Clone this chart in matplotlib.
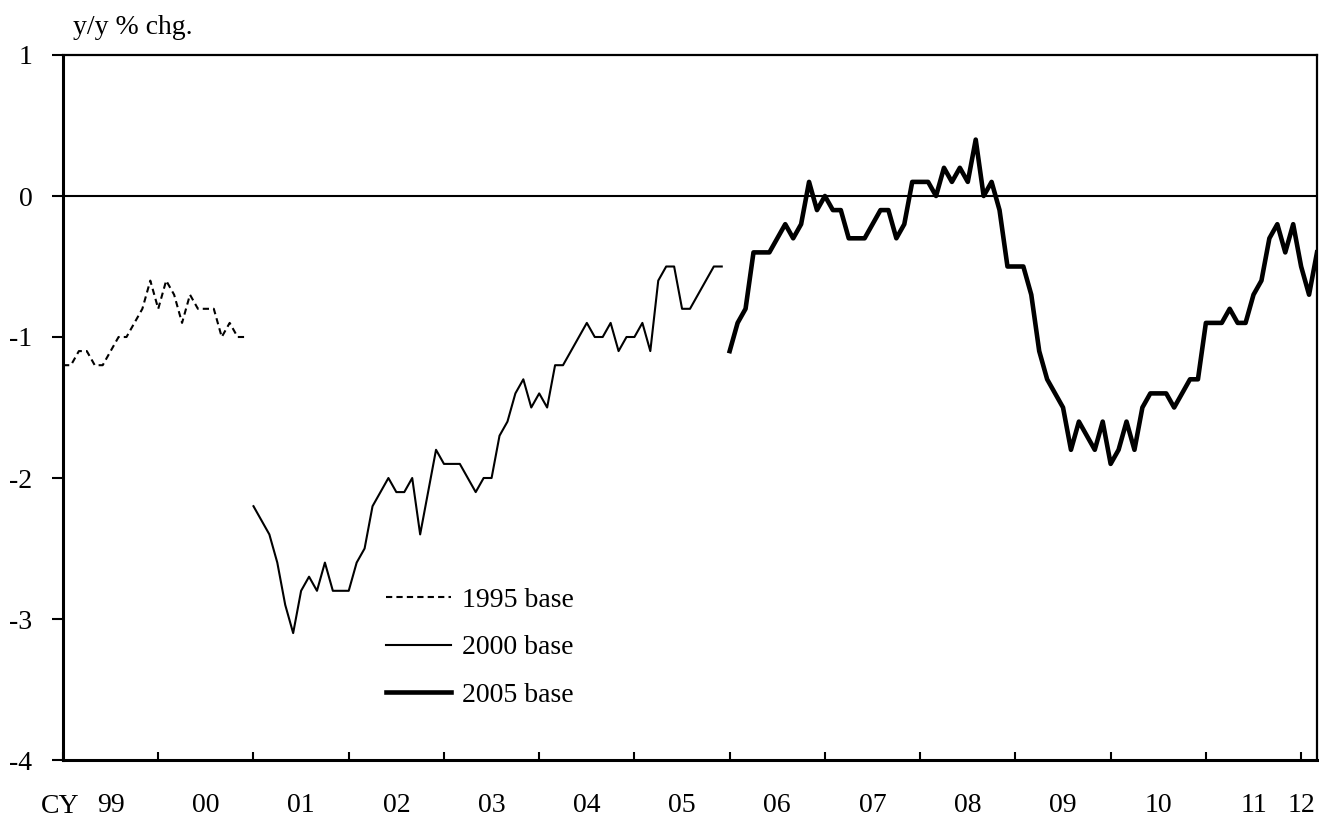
import matplotlib
matplotlib.use('Agg')
import matplotlib.pyplot as plt
import numpy as np

plt.rcParams['font.family'] = ['Liberation Serif', 'DejaVu Serif']
plt.rcParams['axes.unicode_minus'] = False

# monthly y/y % change, x counted in months from Jan 1999
base1995 = [-1.2, -1.2, -1.1, -1.1, -1.2, -1.2, -1.1, -1.0, -1.0, -0.9, -0.8, -0.6,
            -0.8, -0.6, -0.7, -0.9, -0.7, -0.8, -0.8, -0.8, -1.0, -0.9, -1.0, -1.0]  # 1999-2000
base2000 = [-2.2, -2.3, -2.4, -2.6, -2.9, -3.1, -2.8, -2.7, -2.8, -2.6, -2.8, -2.8,
            -2.8, -2.6, -2.5, -2.2, -2.1, -2.0, -2.1, -2.1, -2.0, -2.4, -2.1, -1.8,
            -1.9, -1.9, -1.9, -2.0, -2.1, -2.0, -2.0, -1.7, -1.6, -1.4, -1.3, -1.5,
            -1.4, -1.5, -1.2, -1.2, -1.1, -1.0, -0.9, -1.0, -1.0, -0.9, -1.1, -1.0,
            -1.0, -0.9, -1.1, -0.6, -0.5, -0.5, -0.8, -0.8, -0.7, -0.6, -0.5, -0.5]  # 2001-2005
base2005 = [-1.1, -0.9, -0.8, -0.4, -0.4, -0.4, -0.3, -0.2, -0.3, -0.2, 0.1, -0.1,
            0.0, -0.1, -0.1, -0.3, -0.3, -0.3, -0.2, -0.1, -0.1, -0.3, -0.2, 0.1,
            0.1, 0.1, 0.0, 0.2, 0.1, 0.2, 0.1, 0.4, 0.0, 0.1, -0.1, -0.5,
            -0.5, -0.5, -0.7, -1.1, -1.3, -1.4, -1.5, -1.8, -1.6, -1.7, -1.8, -1.6,
            -1.9, -1.8, -1.6, -1.8, -1.5, -1.4, -1.4, -1.4, -1.5, -1.4, -1.3, -1.3,
            -0.9, -0.9, -0.9, -0.8, -0.9, -0.9, -0.7, -0.6, -0.3, -0.2, -0.4, -0.2,
            -0.5, -0.7, -0.4]  # 2006 - Mar 2012
start_1995, start_2000, start_2005 = 0, 24, 84
year_labels = ['99', '00', '01', '02', '03', '04', '05', '06', '07', '08', '09', '10', '11', '12']
n_months = 158

fig = plt.figure(figsize=(13.19, 8.21), dpi=100)
ax = fig.add_axes([63 / 1319, 61 / 821, 1254 / 1319, 705 / 821])

ax.plot(start_1995 + np.arange(len(base1995)), base1995, color='black', lw=1.5,
        linestyle=(0, (3, 2)), label='1995 base')
ax.plot(start_2000 + np.arange(len(base2000)), base2000, color='black', lw=1.5,
        label='2000 base')
ax.plot(start_2005 + np.arange(len(base2005)), base2005, color='black', lw=3.3,
        label='2005 base')
ax.axhline(0, color='black', lw=1.5, zorder=1)

ax.set_xlim(0, n_months)
ax.set_ylim(-4, 1)
ax.set_yticks(range(-4, 2))
ax.set_yticklabels([str(v) for v in range(-4, 2)], fontsize=20)

# year boundaries as ticks, labels centred in each year
ax.xaxis.remove_overlapping_locs = False
ax.set_xticks(np.arange(0, n_months, 12))
ax.set_xticklabels([])
label_pos = [6 + 12 * k for k in range(13)] + [156]
ax.set_xticks(label_pos, minor=True)
ax.set_xticklabels(year_labels, minor=True, fontsize=20)
ax.tick_params(axis='x', which='major', direction='in', length=6, width=1.5)
ax.tick_params(axis='x', which='minor', length=0, pad=24)
ax.tick_params(axis='y', direction='out', length=8, width=1.5, pad=14)

for side in ['left', 'bottom']:
    ax.spines[side].set_linewidth(2.2)
for side in ['top', 'right']:
    ax.spines[side].set_linewidth(1.6)

fig.text(60 / 1319, 1 - 806 / 821, 'CY', fontsize=20, ha='center', va='center')
fig.text(73 / 1319, 1 - 28 / 821, 'y/y % chg.', fontsize=20, ha='left', va='center')

ax.legend(loc='upper left', bbox_to_anchor=(312 / 1254, 1 - 521 / 705), frameon=False,
          fontsize=20, handlelength=2.35, handletextpad=0.4, labelspacing=0.8,
          borderaxespad=0)

fig.savefig('out.png', dpi=100)
